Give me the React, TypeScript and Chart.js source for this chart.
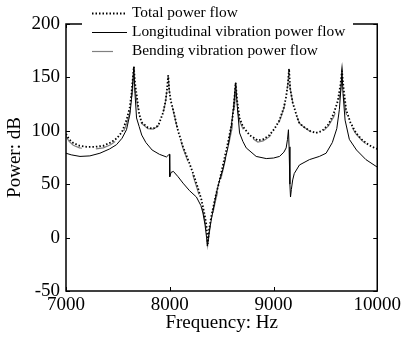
import React, { useEffect, useRef } from 'react';
import { Chart, registerables } from 'chart.js';

Chart.register(...registerables);

const seriesLabels = [
  'Total power flow',
  'Longitudinal vibration power flow',
  'Bending vibration power flow',
];
const xTickValues = [7000, 8000, 9000, 10000];
const yTickValues = [-50, 0, 50, 100, 150, 200];
const xTitle = 'Frequency: Hz';
const yTitle = 'Power: dB';

// Frequencies shared by total and bending power flow
const freqTB = [
  7000, 7030, 7070, 7130, 7200, 7280, 7360, 7430, 7490, 7540,
  7583, 7615, 7631, 7645, 7654, 7665, 7705, 7728, 7790, 7840,
  7890, 7936, 7960, 7975, 7985, 7995, 8010, 8032, 8080, 8128,
  8180, 8224, 8270, 8305, 8335, 8353, 8366, 8380, 8401, 8440,
  8481, 8520, 8561, 8600, 8620, 8635, 8650, 8673, 8705, 8769,
  8849, 8900, 8962, 9010, 9058, 9100, 9122, 9140, 9150, 9160,
  9186, 9230, 9250, 9300, 9350, 9410, 9470, 9530, 9580, 9620,
  9645, 9660, 9675, 9700, 9740, 9795, 9850, 9900, 9950, 10000,
];
const totalDb = [
  97, 92, 88.6, 86, 85, 85, 86, 89, 93, 99,
  110, 122, 135, 150, 160, 145, 116, 108, 103, 102,
  105, 117, 128, 140, 152, 138, 128, 120, 100, 85,
  72, 60.5, 47, 35.6, 22, 12, -6, 8, 20, 38,
  54, 71, 89, 108, 126, 145, 128, 112, 104, 96,
  91, 92, 96, 102, 110, 122, 132, 145, 158, 140,
  126, 112, 107, 103, 100, 98, 100, 106, 116, 128,
  143, 156, 140, 120, 108, 98, 92, 88, 85, 83,
];
const bendDb = [
  95, 90, 86.5, 84, 83, 83, 84, 87, 91, 96,
  106, 117, 128, 142, 152, 138, 114, 107, 102, 101.5,
  104.5, 116.5, 127.5, 139.5, 152, 138, 127.5, 119.5, 99, 83.5,
  70, 58, 44, 32, 18, 6, -7, 4, 16, 34,
  50, 66, 84, 102, 118, 136, 121, 109, 102, 94.5,
  89.5, 90.5, 94.5, 101, 109, 121, 131.5, 144.5, 158, 140,
  126, 112, 107, 103, 99.5, 97, 99, 104.5, 113, 123,
  136, 148, 133, 116, 106, 97, 91, 87, 84, 82,
];

// Longitudinal power flow
const freqLong = [
  7000, 7050, 7135, 7230, 7327, 7420, 7487, 7540, 7583, 7615,
  7631, 7645, 7654, 7665, 7680, 7705, 7730, 7770, 7830, 7900,
  7968, 7990, 7997, 8000, 8012, 8035, 8080, 8128, 8190, 8257,
  8300, 8320, 8340, 8355, 8362, 8370, 8385, 8401, 8450, 8481,
  8512, 8560, 8593, 8615, 8635, 8650, 8673, 8705, 8737, 8833,
  8930, 9000, 9058, 9100, 9122, 9135, 9144, 9150, 9158, 9164,
  9172, 9185, 9200, 9250, 9346, 9442, 9507, 9567, 9610, 9635,
  9650, 9660, 9670, 9690, 9731, 9800, 9891, 10000,
];
const longDb = [
  79, 77.5, 76, 76.5, 79, 83, 87, 93, 101, 115,
  129, 148, 160, 135, 112, 104, 96, 89, 82, 78,
  75.5, 77.5, 78, 57, 61, 62, 57, 51, 44, 38,
  30, 23, 12, 0, -8, -2, 8, 17, 42, 54,
  64, 84, 104, 122, 145, 124, 98, 90, 84, 76,
  74, 74.5, 76, 80, 84, 92, 101, 85, 50, 38,
  45, 54, 60, 68, 73, 76, 79, 89, 102, 120,
  140, 156, 135, 110, 92, 82, 73, 66,
];

const FONT = "'Liberation Serif', 'Times New Roman', Times, serif";

export default function App() {
  const ref = useRef<HTMLCanvasElement>(null);

  useEffect(() => {
    if (!ref.current) return;
    const toPts = (xs: number[], ys: number[]) => xs.map((x, i) => ({ x, y: ys[i] }));

    const framePlugin = {
      id: 'framePlugin',
      afterDatasetsDraw(chart: any) {
        const { ctx, chartArea } = chart;
        const { left, right, top, bottom } = chartArea;
        const xs = chart.scales.x;
        const ys = chart.scales.y;
        ctx.save();
        ctx.strokeStyle = '#000';
        ctx.lineWidth = 1;
        ctx.beginPath();
        xTickValues.forEach((v) => {
          const px = Math.round(xs.getPixelForValue(v)) + 0.5;
          ctx.moveTo(px, bottom);
          ctx.lineTo(px, bottom - 4);
          ctx.moveTo(px, top);
          ctx.lineTo(px, top + 4);
        });
        yTickValues.forEach((v) => {
          const py = Math.round(ys.getPixelForValue(v)) + 0.5;
          ctx.moveTo(left, py);
          ctx.lineTo(left + 4, py);
          ctx.moveTo(right, py);
          ctx.lineTo(right - 4, py);
        });
        ctx.stroke();
        ctx.lineWidth = 1.5;
        ctx.strokeRect(left, top, right - left, bottom - top);
        ctx.restore();
      },
      afterDraw(chart: any) {
        const { ctx } = chart;
        ctx.save();
        ctx.fillStyle = '#fff';
        ctx.fillRect(82, 0, 271, 60);
        const rowsY = [13, 32, 51];
        const styles = [
          { color: '#000', dash: [1.5, 2], width: 1.8, x2: 127 },
          { color: '#000', dash: [], width: 1, x2: 127 },
          { color: '#808080', dash: [21, 14], width: 1.2, x2: 127 },
        ];
        seriesLabels.forEach((label, i) => {
          const s = styles[i];
          ctx.beginPath();
          ctx.setLineDash(s.dash);
          ctx.strokeStyle = s.color;
          ctx.lineWidth = s.width;
          ctx.moveTo(92, rowsY[i] + 0.5);
          ctx.lineTo(s.x2, rowsY[i] + 0.5);
          ctx.stroke();
          ctx.setLineDash([]);
          ctx.fillStyle = '#000';
          ctx.font = `15.4px ${FONT}`;
          ctx.textBaseline = 'middle';
          ctx.textAlign = 'left';
          ctx.fillText(label, 132, rowsY[i]);
        });
        ctx.restore();
      },
    };

    const chart = new Chart(ref.current, {
      type: 'line',
      data: {
        datasets: [
          {
            label: seriesLabels[0],
            data: toPts(freqTB, totalDb),
            borderColor: '#000',
            borderWidth: 1.8,
            borderDash: [1.5, 2],
            pointRadius: 0,
            fill: false,
            tension: 0,
          },
          {
            label: seriesLabels[1],
            data: toPts(freqLong, longDb),
            borderColor: '#000',
            borderWidth: 1,
            pointRadius: 0,
            fill: false,
            tension: 0,
          },
          {
            label: seriesLabels[2],
            data: toPts(freqTB, bendDb),
            borderColor: '#808080',
            borderWidth: 1.2,
            borderDash: [21, 14],
            pointRadius: 0,
            fill: false,
            tension: 0,
          },
        ],
      },
      options: {
        responsive: false,
        animation: false,
        devicePixelRatio: 1,
        layout: { padding: { left: 0, top: 24, right: 26, bottom: 0 } },
        plugins: {
          legend: { display: false },
          tooltip: { enabled: false },
        },
        scales: {
          x: {
            type: 'linear',
            min: 7000,
            max: 10000,
            afterBuildTicks: (s: any) => {
              s.ticks = xTickValues.map((v) => ({ value: v }));
            },
            afterFit: (s: any) => {
              s.height = 49;
            },
            grid: { display: false, drawTicks: false },
            border: { display: false },
            ticks: {
              color: '#000',
              font: { family: FONT, size: 19 },
              padding: 3,
              maxRotation: 0,
              autoSkip: false,
              callback: (v: any) => String(v),
            },
            title: {
              display: true,
              text: xTitle,
              color: '#000',
              font: { family: FONT, size: 19 },
              padding: { top: 0, bottom: 6 },
            },
          },
          y: {
            type: 'linear',
            min: -50,
            max: 200,
            afterBuildTicks: (s: any) => {
              s.ticks = yTickValues.map((v) => ({ value: v }));
            },
            afterFit: (s: any) => {
              s.width = 66;
            },
            grid: { display: false, drawTicks: false },
            border: { display: false },
            ticks: {
              color: '#000',
              font: { family: FONT, size: 19 },
              padding: 6,
              autoSkip: false,
              callback: (v: any) => String(v),
            },
            title: {
              display: true,
              text: yTitle,
              color: '#000',
              font: { family: FONT, size: 19 },
              padding: { top: 4, bottom: 0 },
            },
          },
        },
      },
      plugins: [framePlugin],
    });
    return () => chart.destroy();
  }, []);

  return (
    <div style={{ position: 'fixed', left: 0, top: 0, width: 404, height: 340, background: '#fff' }}>
      <canvas ref={ref} width={404} height={340} style={{ display: 'block' }} />
    </div>
  );
}
